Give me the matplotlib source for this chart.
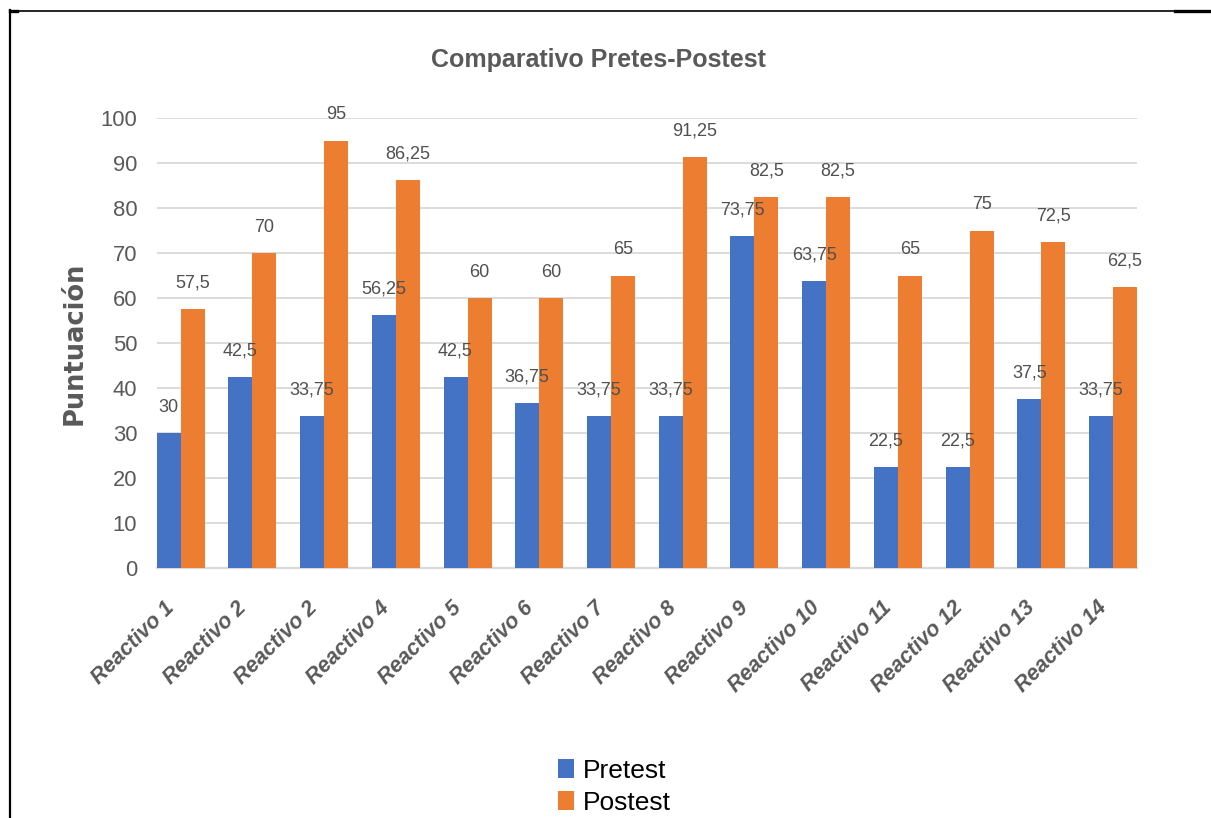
import matplotlib
matplotlib.use("Agg")
import matplotlib.pyplot as plt
import matplotlib.transforms as mtransforms
from matplotlib.lines import Line2D
import numpy as np

categories = ["Reactivo 1", "Reactivo 2", "Reactivo 2", "Reactivo 4", "Reactivo 5",
              "Reactivo 6", "Reactivo 7", "Reactivo 8", "Reactivo 9", "Reactivo 10",
              "Reactivo 11", "Reactivo 12", "Reactivo 13", "Reactivo 14"]
pretest = [30, 42.5, 33.75, 56.25, 42.5, 36.75, 33.75, 33.75, 73.75, 63.75, 22.5, 22.5, 37.5, 33.75]
postest = [57.5, 70, 95, 86.25, 60, 60, 65, 91.25, 82.5, 82.5, 65, 75, 72.5, 62.5]
series_names = ["Pretest", "Postest"]
yticks = [0, 10, 20, 30, 40, 50, 60, 70, 80, 90, 100]

BLUE = "#4472C4"
ORANGE = "#ED7D31"
GRAY = "#595959"
GRID = "#D9D9D9"
FONT = ["Liberation Sans", "DejaVu Sans"]

plt.rcParams["font.family"] = FONT

fig = plt.figure(figsize=(12.11, 8.18), dpi=100)
ax = fig.add_axes([156.7 / 1211, 250 / 818, 980.3 / 1211, 450 / 818])

x = np.arange(len(categories))
w = 0.335
b1 = ax.bar(x - w / 2, pretest, w, color=BLUE, label=series_names[0], zorder=3)
b2 = ax.bar(x + w / 2, postest, w, color=ORANGE, label=series_names[1], zorder=3)


def fmt(v):
    s = f"{v:.2f}".rstrip("0").rstrip(".")
    return s.replace(".", ",")


for xs, vals in ((x - w / 2, pretest), (x + w / 2, postest)):
    for xi, v in zip(xs, vals):
        ax.annotate(fmt(v), xy=(xi, v), xytext=(0, 18.7), textcoords="offset points",
                    ha="center", va="center", fontsize=13, color="#505050", zorder=4)

ax.set_xlim(-0.335, len(categories) - 1 + 0.335)
ax.set_ylim(0, 100)
ax.set_yticks(yticks)
ax.yaxis.grid(True, color=GRID, linewidth=1.3, zorder=0)
ax.set_axisbelow(True)
for s in ("top", "right", "left"):
    ax.spines[s].set_visible(False)
ax.spines["bottom"].set_color(GRID)
ax.spines["bottom"].set_linewidth(1.6)
ax.tick_params(axis="both", length=0)
ax.tick_params(axis="y", labelsize=15.8, labelcolor=GRAY, pad=14)

ax.set_xticks(x)
ax.set_xticklabels(categories, rotation=45, ha="right", fontsize=15.5,
                   fontweight="bold", fontstyle="italic", color=GRAY)
ax.tick_params(axis="x", pad=21)
shift = mtransforms.ScaledTranslation(-2 / 100, 0, fig.dpi_scale_trans)
for lbl in ax.get_xticklabels():
    lbl.set_transform(lbl.get_transform() + shift)

ax.set_ylabel("Puntuación", fontsize=18.5, fontweight="bold", color=GRAY,
              family=["DejaVu Sans"], labelpad=9)

fig.text(598 / 1211, 1 - 60 / 818, "Comparativo Pretes-Postest", ha="center", va="center",
         fontsize=18, fontweight="bold", color=GRAY)

fig.legend(handles=[b1, b2], labels=series_names, loc="upper left",
           bbox_to_anchor=(558 / 1211, 1 - 759 / 818), frameon=False, fontsize=19,
           handlelength=0.62, handleheight=0.72, handletextpad=0.32, labelspacing=0.3,
           borderpad=0, borderaxespad=0)

# page frame around the chart
def px(xp, yp):
    return xp / 1211, 1 - yp / 818

fig.add_artist(Line2D([px(10, 0)[0], px(10, 0)[0]], [px(0, 10)[1], 0], color="black", lw=1.6,
                      transform=fig.transFigure))
fig.add_artist(Line2D([px(10, 0)[0], px(1175, 0)[0]], [px(0, 10.5)[1]] * 2, color="black", lw=1.2,
                      transform=fig.transFigure))
fig.add_artist(Line2D([px(1175, 0)[0], 1], [px(0, 11)[1]] * 2, color="black", lw=2.4,
                      transform=fig.transFigure))
fig.add_artist(Line2D([px(10, 0)[0], px(17, 0)[0]], [px(0, 11)[1]] * 2, color="black", lw=2.4,
                      transform=fig.transFigure))

fig.savefig("out.png", dpi=100, facecolor="white")
